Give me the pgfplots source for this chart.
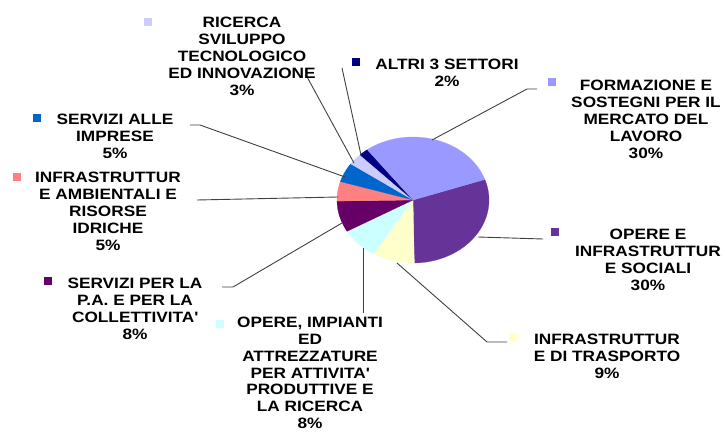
\documentclass[border=0pt]{standalone}
\usepackage{pgfplots}
\pgfplotsset{compat=1.18}
\usepackage{fontspec}
\setmainfont{Liberation Sans}[FakeStretch=1.15]
\definecolor{cForm}{HTML}{9999FF}
\definecolor{cOpere}{HTML}{663399}
\definecolor{cTrasp}{HTML}{FFFFCC}
\definecolor{cImp}{HTML}{CCFFFF}
\definecolor{cPA}{HTML}{660066}
\definecolor{cAmb}{HTML}{FF8080}
\definecolor{cImpr}{HTML}{0066CC}
\definecolor{cRic}{HTML}{CCCCFF}
\definecolor{cAltri}{HTML}{000080}
\definecolor{leader}{HTML}{404040}
\tikzset{lbl/.style={anchor=north, align=center, inner sep=0pt, text=black,
  font=\fontsize{15}{17}\selectfont\bfseries}}
\begin{document}
\begin{tikzpicture}
\useasboundingbox (0,0) rectangle (725pt,433pt);
\begin{axis}[width=725pt, height=433pt, scale only axis,
  xmin=0, xmax=725, ymin=0, ymax=433, y dir=reverse,
  hide axis, clip=false]
% pie slices: percentage / colour, clockwise from 19 degrees
\gdef\cum{19}
\foreach \v/\c in {30/cOpere, 9/cTrasp, 8/cImp, 8/cPA, 5/cAmb, 5/cImpr, 3/cRic, 2/cAltri, 30/cForm} {
  \pgfmathsetmacro\a{\cum - 3.6*\v}
  \edef\temp{\noexpand\addplot[fill=\c, draw=\c, line width=0.2pt, domain=\a:\cum, samples=60, no marks]
     ({413+76*cos(x)},{200-63*sin(x)}) -- (axis cs:413,200) -- cycle;}
  \temp
  \xdef\cum{\a}
}
% leader lines
\addplot[leader, line width=0.9pt, no marks] coordinates {(306,75) (354,163)};
\addplot[leader, line width=0.9pt, no marks] coordinates {(342,68) (361,155)};
\addplot[leader, line width=0.9pt, no marks] coordinates {(432,140) (527,89) (537,89)};
\addplot[leader, line width=0.9pt, no marks] coordinates {(478,237) (543,239)};
\addplot[leader, line width=0.9pt, no marks] coordinates {(397,263) (487,342) (507,342)};
\addplot[leader, line width=0.9pt, no marks] coordinates {(363,248) (363,313)};
\addplot[leader, line width=0.9pt, no marks] coordinates {(342,223) (233,287) (222,287)};
\addplot[leader, line width=0.9pt, no marks] coordinates {(197,200) (338,197)};
\addplot[leader, line width=0.9pt, no marks] coordinates {(190,125) (200,125) (345,177)};
% legend keys
\addplot[only marks, mark=square*, mark size=3.5pt, mark options={draw=cRic, fill=cRic}] coordinates {(148,22)};
\addplot[only marks, mark=square*, mark size=3.5pt, mark options={draw=cAltri, fill=cAltri}] coordinates {(356,62)};
\addplot[only marks, mark=square*, mark size=3.5pt, mark options={draw=cForm, fill=cForm}] coordinates {(552,82)};
\addplot[only marks, mark=square*, mark size=3.5pt, mark options={draw=cOpere, fill=cOpere}] coordinates {(555,232)};
\addplot[only marks, mark=square*, mark size=3.5pt, mark options={draw=cTrasp, fill=cTrasp}] coordinates {(513,337)};
\addplot[only marks, mark=square*, mark size=3.5pt, mark options={draw=cImp, fill=cImp}] coordinates {(220,324)};
\addplot[only marks, mark=square*, mark size=3.5pt, mark options={draw=cPA, fill=cPA}] coordinates {(48,281)};
\addplot[only marks, mark=square*, mark size=3.5pt, mark options={draw=cAmb, fill=cAmb}] coordinates {(17,177)};
\addplot[only marks, mark=square*, mark size=3.5pt, mark options={draw=cImpr, fill=cImpr}] coordinates {(37,118)};
% labels
\node[lbl] at (axis cs:242,16.6) {RICERCA\\SVILUPPO\\TECNOLOGICO\\ED INNOVAZIONE\\3\%};
\node[lbl] at (axis cs:447,58.6) {ALTRI 3 SETTORI\\2\%};
\node[lbl] at (axis cs:646,79.6) {FORMAZIONE E\\SOSTEGNI PER IL\\MERCATO DEL\\LAVORO\\30\%};
\node[lbl] at (axis cs:648,228.6) {OPERE E\\INFRASTRUTTUR\\E SOCIALI\\30\%};
\node[lbl] at (axis cs:607,333.6) {INFRASTRUTTUR\\E DI TRASPORTO\\9\%};
\node[lbl, font=\fontsize{15}{16.8}\selectfont\bfseries] at (axis cs:310,317) {OPERE, IMPIANTI\\ED\\ATTREZZATURE\\PER ATTIVITA\textquotesingle\\PRODUTTIVE E\\LA RICERCA\\8\%};
\node[lbl] at (axis cs:135,277.6) {SERVIZI PER LA\\P.A. E PER LA\\COLLETTIVITA\textquotesingle\\8\%};
\node[lbl] at (axis cs:108,172) {INFRASTRUTTUR\\E AMBIENTALI E\\RISORSE\\IDRICHE\\5\%};
\node[lbl] at (axis cs:115,113.6) {SERVIZI ALLE\\IMPRESE\\5\%};
\end{axis}
\end{tikzpicture}
\end{document}
